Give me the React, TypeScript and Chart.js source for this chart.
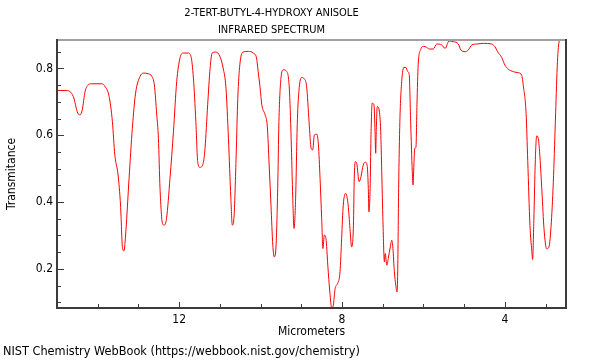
import React, { useEffect, useRef } from 'react';
import { Chart, registerables } from 'chart.js';

Chart.register(...registerables);

const titleLines = ['2-TERT-BUTYL-4-HYDROXY ANISOLE', 'INFRARED SPECTRUM'];
const xAxisTitle = 'Micrometers';
const yAxisTitle = 'Transmitance';
const sourceNote = 'NIST Chemistry WebBook (https://webbook.nist.gov/chemistry)';

const wavelengthUm = [
  15.0, 14.76, 14.6, 14.49, 14.435, 14.38, 14.31, 14.23, 14.15, 13.9,
  13.82, 13.72, 13.64, 13.58, 13.5, 13.44, 13.39, 13.355, 13.31, 13.23,
  13.15, 13.07, 12.96, 12.88, 12.76, 12.67, 12.61, 12.55, 12.51, 12.47,
  12.41, 12.365, 12.31, 12.225, 12.14, 12.06, 11.98, 11.9, 11.78, 11.71,
  11.65, 11.59, 11.545, 11.49, 11.41, 11.365, 11.3, 11.24, 11.19, 11.1,
  11.0, 10.92, 10.85, 10.79, 10.73, 10.695, 10.65, 10.6, 10.56, 10.51,
  10.43, 10.3, 10.18, 10.1, 10.06, 10.015, 9.97, 9.89, 9.835, 9.79,
  9.745, 9.7, 9.665, 9.62, 9.58, 9.55, 9.5, 9.44, 9.36, 9.295,
  9.25, 9.21, 9.18, 9.14, 9.1, 9.06, 8.99, 8.93, 8.87, 8.81,
  8.76, 8.72, 8.68, 8.62, 8.58, 8.54, 8.5, 8.47, 8.435, 8.395,
  8.35, 8.3, 8.255, 8.215, 8.17, 8.11, 8.05, 8.01, 7.97, 7.91,
  7.85, 7.805, 7.765, 7.72, 7.7, 7.675, 7.64, 7.58, 7.535, 7.48,
  7.42, 7.38, 7.355, 7.34, 7.31, 7.29, 7.26, 7.215, 7.19, 7.173,
  7.16, 7.135, 7.09, 7.05, 7.025, 6.995, 6.96, 6.94, 6.9, 6.865,
  6.815, 6.78, 6.75, 6.715, 6.68, 6.65, 6.633, 6.61, 6.58, 6.535,
  6.48, 6.43, 6.39, 6.35, 6.315, 6.275, 6.257, 6.235, 6.215, 6.185,
  6.16, 6.13, 6.07, 6.0, 5.92, 5.86, 5.76, 5.675, 5.55, 5.47,
  5.37, 5.27, 5.145, 5.08, 4.98, 4.9, 4.815, 4.69, 4.53, 4.325,
  4.245, 4.18, 4.08, 4.0, 3.92, 3.79, 3.67, 3.59, 3.545, 3.48,
  3.44, 3.385, 3.34, 3.32, 3.29, 3.255, 3.22, 3.18, 3.14, 3.09,
  3.04, 2.975, 2.92, 2.86, 2.805, 2.755, 2.71, 2.665, 2.605, 2.5,
];

const transmittance = [
  0.734, 0.734, 0.716, 0.666, 0.661, 0.676, 0.731, 0.751, 0.754, 0.754,
  0.746, 0.716, 0.641, 0.541, 0.481, 0.391, 0.261, 0.254, 0.311, 0.471,
  0.621, 0.726, 0.776, 0.786, 0.784, 0.776, 0.751, 0.661, 0.591, 0.441,
  0.336, 0.331, 0.351, 0.471, 0.611, 0.761, 0.831, 0.846, 0.846, 0.836,
  0.771, 0.641, 0.521, 0.504, 0.516, 0.561, 0.691, 0.801, 0.846, 0.849,
  0.836, 0.801, 0.741, 0.591, 0.411, 0.331, 0.361, 0.541, 0.711, 0.811,
  0.849, 0.851, 0.846, 0.831, 0.791, 0.745, 0.691, 0.661, 0.626, 0.511,
  0.391, 0.271, 0.236, 0.271, 0.441, 0.641, 0.771, 0.796, 0.791, 0.741,
  0.591, 0.411, 0.321, 0.411, 0.631, 0.731, 0.773, 0.769, 0.746, 0.641,
  0.561, 0.556, 0.601, 0.603, 0.571, 0.471, 0.351, 0.261, 0.301, 0.291,
  0.211, 0.131, 0.083, 0.091, 0.141, 0.156, 0.191, 0.291, 0.391, 0.426,
  0.391, 0.321, 0.266, 0.331, 0.471, 0.521, 0.516, 0.461, 0.476, 0.511,
  0.519, 0.506, 0.441, 0.371, 0.441, 0.591, 0.696, 0.691, 0.611, 0.546,
  0.611, 0.686, 0.676, 0.611, 0.491, 0.341, 0.221, 0.246, 0.211, 0.231,
  0.266, 0.286, 0.261, 0.191, 0.151, 0.131, 0.191, 0.441, 0.641, 0.761,
  0.803, 0.803, 0.791, 0.781, 0.641, 0.491, 0.451, 0.511, 0.561, 0.563,
  0.691, 0.811, 0.856, 0.866, 0.863, 0.858, 0.858, 0.873, 0.87, 0.86,
  0.882, 0.88, 0.873, 0.855, 0.85, 0.855, 0.87, 0.873, 0.875, 0.873,
  0.865, 0.85, 0.833, 0.81, 0.798, 0.79, 0.787, 0.78, 0.745, 0.665,
  0.525, 0.33, 0.255, 0.228, 0.345, 0.52, 0.598, 0.59, 0.535, 0.43,
  0.32, 0.26, 0.265, 0.34, 0.48, 0.665, 0.82, 0.881, 0.885, 0.884,
];

const xLabeledTicks = [12, 8, 4];
const xMinorTicks = [3, 5, 6, 7, 9, 10, 11, 13, 14];
const yLabeledTicks = [0.2, 0.4, 0.6, 0.8];
const yMinorTicks = [0.1, 0.15, 0.25, 0.3, 0.35, 0.45, 0.5, 0.55, 0.65, 0.7, 0.75, 0.85];
const xMin = 2.5;
const xMax = 15;
const yMin = 0.083;
const yMax = 0.885;

const FONT = "'DejaVu Sans Condensed', 'DejaVu Sans', sans-serif";
const AXIS_COLOR = '#3c3c3c';

const framePlugin = {
  id: 'framePlugin',
  afterDatasetsDraw(chart: any) {
    const { ctx, chartArea, scales } = chart;
    const { left, right, top, bottom } = chartArea;
    const xs = scales.x;
    const ys = scales.y;
    ctx.save();
    // frame
    ctx.fillStyle = '#a0a0a0';
    ctx.fillRect(left, top - 1, right - left, 2);
    ctx.fillStyle = AXIS_COLOR;
    ctx.fillRect(left - 1, top - 1, 2, bottom - top + 2);
    ctx.fillRect(left - 1, bottom - 1, right - left + 2, 2);
    ctx.fillRect(right - 1, top - 1, 2, bottom - top + 2);
    // inward ticks
    ctx.strokeStyle = AXIS_COLOR;
    ctx.lineWidth = 1;
    ctx.beginPath();
    const xTick = (v: number, len: number) => {
      const px = Math.round(xs.getPixelForValue(v)) + 0.5;
      ctx.moveTo(px, bottom);
      ctx.lineTo(px, bottom - len);
    };
    const yTick = (v: number, len: number) => {
      const py = Math.round(ys.getPixelForValue(v)) + 0.5;
      ctx.moveTo(left, py);
      ctx.lineTo(left + len, py);
    };
    xMinorTicks.forEach((v) => xTick(v, 4));
    xLabeledTicks.forEach((v) => xTick(v, 6));
    yMinorTicks.forEach((v) => yTick(v, 4));
    yLabeledTicks.forEach((v) => yTick(v, 7));
    ctx.stroke();
    // texts
    ctx.fillStyle = '#000';
    ctx.textBaseline = 'middle';
    ctx.textAlign = 'center';
    ctx.font = `11px ${FONT}`;
    titleLines.forEach((t, i) => ctx.fillText(t, 271.5, 13 + i * 17));
    ctx.font = `12px ${FONT}`;
    ctx.fillText(xAxisTitle, (left + right) / 2, 332);
    ctx.save();
    ctx.translate(12, (top + bottom) / 2);
    ctx.rotate(-Math.PI / 2);
    ctx.fillText(yAxisTitle, 0, 0);
    ctx.restore();
    ctx.textAlign = 'left';
    ctx.font = `12.6px ${FONT}`;
    ctx.fillText(sourceNote, 3, 352);
    ctx.restore();
  },
};

export default function App() {
  const canvasRef = useRef<HTMLCanvasElement | null>(null);

  useEffect(() => {
    const canvas = canvasRef.current;
    if (!canvas) return;
    const points = wavelengthUm.map((x, i) => ({ x, y: transmittance[i] }));
    const chart = new Chart(canvas, {
      type: 'line',
      data: {
        datasets: [
          {
            data: points,
            borderColor: 'rgb(255, 0, 0)',
            borderWidth: 1,
            pointRadius: 0,
            fill: false,
            cubicInterpolationMode: 'monotone',
          },
        ],
      },
      options: {
        animation: false,
        responsive: false,
        devicePixelRatio: 1,
        layout: { padding: { left: 0, right: 34, top: 40, bottom: 0 } },
        plugins: {
          legend: { display: false },
          tooltip: { enabled: false },
          title: { display: false },
        },
        scales: {
          x: {
            type: 'linear',
            reverse: true,
            min: xMin,
            max: xMax,
            grid: { display: false, drawTicks: false },
            border: { display: false },
            ticks: {
              stepSize: 1,
              autoSkip: false,
              maxRotation: 0,
              padding: 5,
              color: '#000',
              font: { family: FONT, size: 12 },
              callback: (v: any) => (xLabeledTicks.includes(Number(v)) ? String(v) : ''),
            },
            afterFit: (s: any) => {
              s.height = 52;
            },
          },
          y: {
            type: 'linear',
            min: yMin,
            max: yMax,
            grid: { display: false, drawTicks: false },
            border: { display: false },
            ticks: {
              stepSize: 0.1,
              autoSkip: false,
              padding: 4,
              color: '#000',
              font: { family: FONT, size: 12 },
              callback: (v: any) => {
                const n = Number(v);
                return yLabeledTicks.some((t) => Math.abs(t - n) < 1e-6) ? n.toFixed(1) : '';
              },
            },
            afterFit: (s: any) => {
              s.width = 57;
            },
          },
        },
      },
      plugins: [framePlugin],
    } as any);
    return () => chart.destroy();
  }, []);

  return (
    <div style={{ position: 'absolute', left: 0, top: 0, width: 600, height: 360, background: '#fff' }}>
      <canvas ref={canvasRef} width={600} height={360} />
    </div>
  );
}
